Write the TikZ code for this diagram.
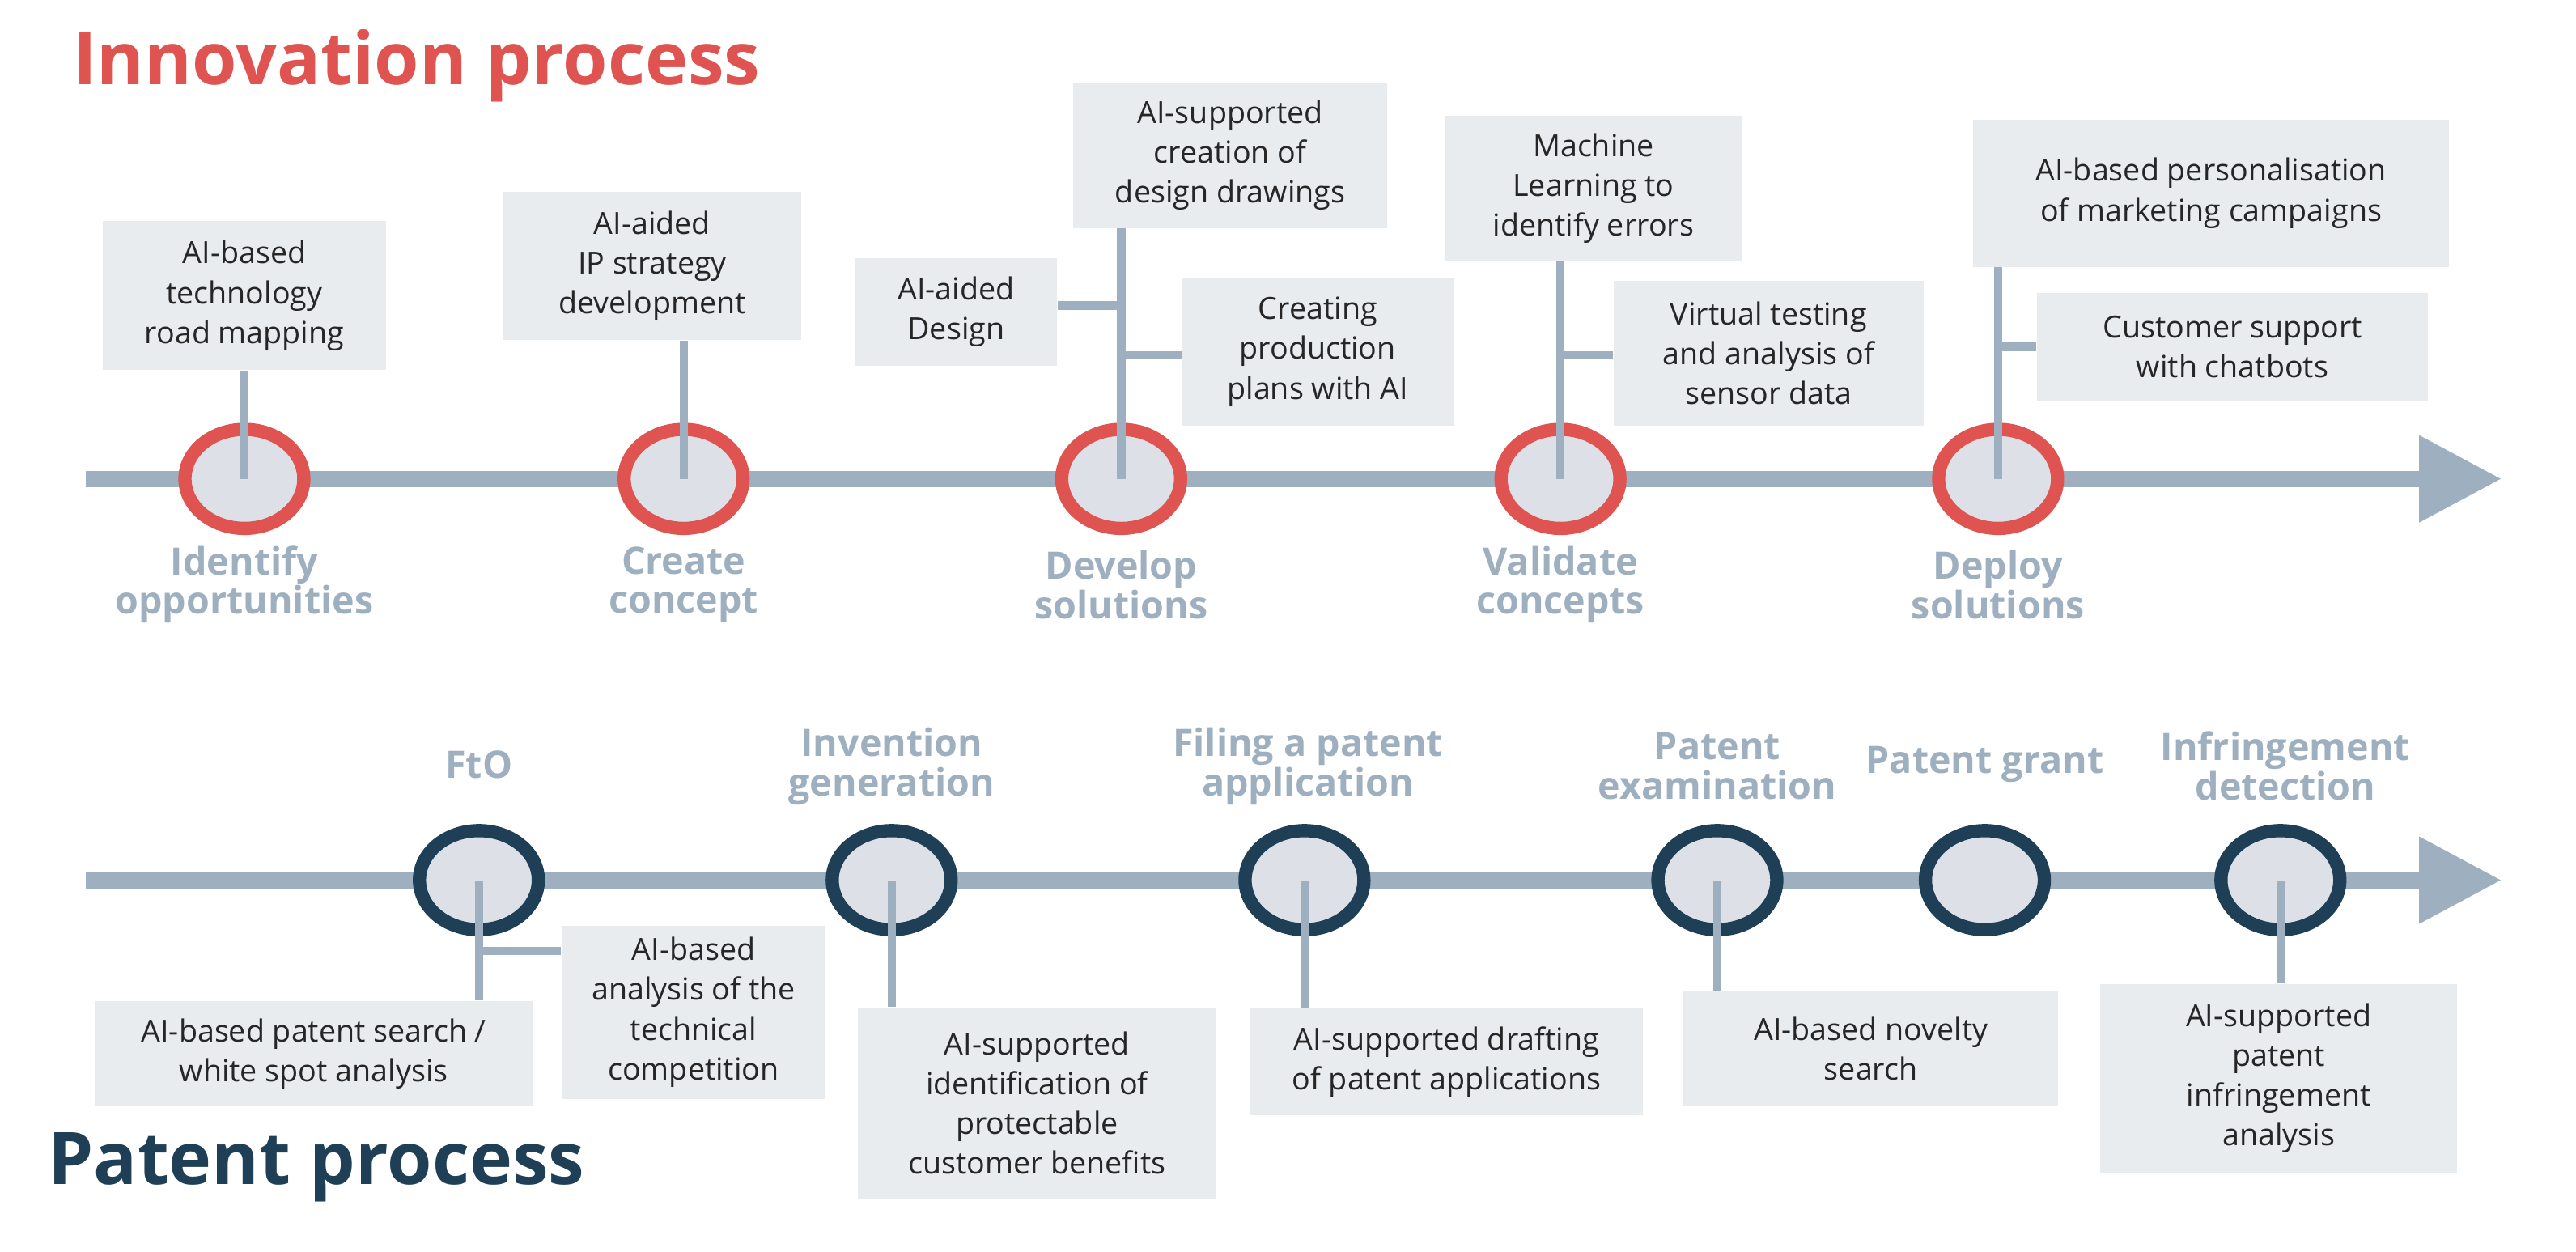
\documentclass[tikz,border=0pt]{standalone}
\usepackage{fontspec}
\setmainfont{Open Sans}
\usetikzlibrary{arrows.meta}
\usetikzlibrary{shapes.geometric}
\definecolor{innored}{HTML}{DF5450}
\definecolor{patnavy}{HTML}{1F3F57}
\definecolor{axisgray}{HTML}{9EB0BF}
\definecolor{boxgray}{HTML}{E8ECEF}
\definecolor{dotgray}{HTML}{DDE1E7}
\tikzstyle{Info}=[fill=boxgray, align=center, inner sep=0pt, font=\fontsize{10.5}{13.7}\selectfont, text=black!85]
\tikzstyle{InnoStep}=[ellipse, minimum width=1.44cm, minimum height=1.2cm, fill=dotgray, draw=innored, line width=0.16cm]
\tikzstyle{PatStep}=[ellipse, minimum width=1.44cm, minimum height=1.2cm, fill=dotgray, draw=patnavy, line width=0.16cm]
\tikzstyle{Stage}=[align=center, text=axisgray, font=\fontsize{13}{13.6}\selectfont\bfseries]
\tikzstyle{stem}=[draw=axisgray, line width=0.1cm]
\tikzstyle{axis}=[draw=axisgray, line width=0.2cm, -{Triangle[length=1cm, width=1cm]}]

\begin{document}
\begin{tikzpicture}[x=0.02cm, y=-0.02cm]
	\useasboundingbox[fill=white] (0,0) rectangle (1560,758);
	% titles
	\node [anchor=west, text=innored, font=\fontsize{25}{28}\selectfont\bfseries] (innotitle) at (38,40) {Innovation process};
	\node [anchor=west, text=patnavy, font=\fontsize{25}{28}\selectfont\bfseries] (pattitle) at (23,707) {Patent process};
	% axes
	\coordinate (inno_start) at (52,290);
	\coordinate (inno_end) at (1515,290);
	\coordinate (pat_start) at (52,533);
	\coordinate (pat_end) at (1515,533);
	\draw [axis] (inno_start) -- (inno_end);
	\draw [axis] (pat_start) -- (pat_end);
	% innovation steps
	\node [style=InnoStep] (identify) at (148,290) {};
	\node [style=InnoStep] (create) at (414,290) {};
	\node [style=InnoStep] (develop) at (679,290) {};
	\node [style=InnoStep] (validate) at (945,290) {};
	\node [style=InnoStep] (deploy) at (1210,290) {};
	\node [style=Stage] at (148,354) {Identify\\opportunities};
	\node [style=Stage] at (414,354) {Create\\concept};
	\node [style=Stage] at (679,354) {Develop\\solutions};
	\node [style=Stage] at (945,354) {Validate\\concepts};
	\node [style=Stage] at (1210,354) {Deploy\\solutions};
	% innovation boxes
	\node [style=Info, minimum width=3.44cm, minimum height=1.8cm] (roadmap) at (148,179) {AI-based\\technology\\road mapping};
	\node [style=Info, minimum width=3.6cm, minimum height=1.8cm] (ipstrat) at (395,161) {AI-aided\\IP strategy\\development};
	\node [style=Info, minimum width=3.8cm, minimum height=1.76cm] (drawings) at (745,94) {AI-supported\\creation of\\design drawings};
	\node [style=Info, minimum width=2.44cm, minimum height=1.3cm] (design) at (579,189) {AI-aided\\Design};
	\node [style=Info, minimum width=3.28cm, minimum height=1.8cm] (plans) at (798,213) {Creating\\production\\plans with AI};
	\node [style=Info, minimum width=3.58cm, minimum height=1.76cm] (errors) at (965,114) {Machine\\Learning to\\identify errors};
	\node [style=Info, minimum width=3.76cm, minimum height=1.76cm] (sensor) at (1071,214) {Virtual testing\\and analysis of\\sensor data};
	\node [style=Info, minimum width=5.76cm, minimum height=1.78cm] (marketing) at (1339,117) {AI-based personalisation\\of marketing campaigns};
	\node [style=Info, minimum width=4.74cm, minimum height=1.3cm] (chatbots) at (1352,210) {Customer support\\with chatbots};
	% innovation stems
	\draw [style=stem] (roadmap.south -| identify) -- (identify.center);
	\draw [style=stem] (ipstrat.south -| create) -- (create.center);
	\draw [style=stem] (drawings.south -| develop) -- (develop.center);
	\draw [style=stem] (design.east |- 0,185) -- (develop |- 0,185);
	\draw [style=stem] (plans.west |- 0,215) -- (develop |- 0,215);
	\draw [style=stem] (errors.south -| validate) -- (validate.center);
	\draw [style=stem] (sensor.west |- 0,215) -- (validate |- 0,215);
	\draw [style=stem] (marketing.south -| deploy) -- (deploy.center);
	\draw [style=stem] (chatbots.west |- 0,210) -- (deploy |- 0,210);
	% patent steps
	\node [style=PatStep] (fto) at (290,533) {};
	\node [style=PatStep] (invention) at (540,533) {};
	\node [style=PatStep] (filing) at (790,533) {};
	\node [style=PatStep] (exam) at (1040,533) {};
	\node [style=PatStep] (grant) at (1202,533) {};
	\node [style=PatStep] (infringe) at (1381,533) {};
	\node [style=Stage] at (290,463) {FtO};
	\node [style=Stage] at (540,464) {Invention\\generation};
	\node [style=Stage] at (792,464) {Filing a patent\\application};
	\node [style=Stage] at (1040,464) {Patent\\examination};
	\node [style=Stage] at (1202,463) {Patent grant};
	\node [style=Stage] at (1384,464) {Infringement\\detection};
	% patent boxes
	\node [style=Info, minimum width=5.3cm, minimum height=1.28cm] (search) at (190,638) {AI-based patent search /\\white spot analysis};
	\node [style=Info, minimum width=3.2cm, minimum height=2.1cm] (competition) at (420,613) {AI-based\\analysis of the\\technical\\competition};
	\node [style=Info, minimum width=4.34cm, minimum height=2.32cm] (benefits) at (628,668) {AI-supported\\identification of\\protectable\\customer benefits};
	\node [style=Info, minimum width=4.76cm, minimum height=1.3cm] (drafting) at (876,643) {AI-supported drafting\\of patent applications};
	\node [style=Info, minimum width=4.54cm, minimum height=1.4cm] (novelty) at (1133,635) {AI-based novelty\\search};
	\node [style=Info, minimum width=4.32cm, minimum height=2.28cm] (infranalysis) at (1380,653) {AI-supported\\patent\\infringement\\analysis};
	% patent stems
	\draw [style=stem] (fto.center) -- (search.north -| fto);
	\draw [style=stem] (competition.west |- 0,576) -- (fto |- 0,576);
	\draw [style=stem] (invention.center) -- (benefits.north -| invention);
	\draw [style=stem] (filing.center) -- (drafting.north -| filing);
	\draw [style=stem] (exam.center) -- (novelty.north -| exam);
	\draw [style=stem] (infringe.center) -- (infranalysis.north -| infringe);
\end{tikzpicture}
\end{document}
